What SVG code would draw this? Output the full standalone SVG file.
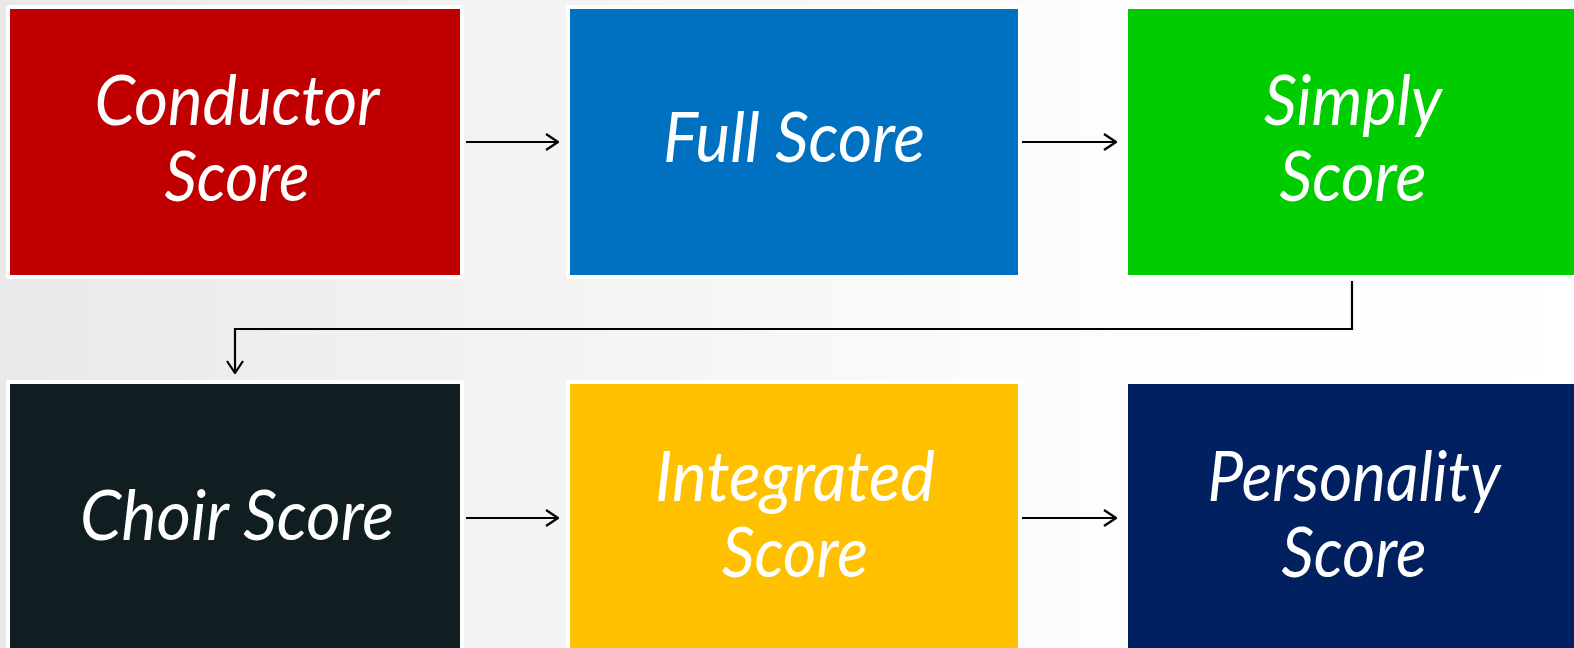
<svg xmlns="http://www.w3.org/2000/svg" width="1574" height="648" viewBox="0 0 1574 648">
<defs>
<linearGradient id="bg" x1="0" y1="0" x2="1" y2="0">
<stop offset="0" stop-color="#e9e9e9"/>
<stop offset="0.35" stop-color="#f3f3f3"/>
<stop offset="0.7" stop-color="#fdfdfd"/>
<stop offset="1" stop-color="#ffffff"/>
</linearGradient>
<marker id="arr" viewBox="0 0 14 18" refX="13" refY="9" markerWidth="14" markerHeight="18" markerUnits="userSpaceOnUse" orient="auto">
<path d="M1,1 L13,9 L1,17" fill="none" stroke="#000" stroke-width="2.2"/>
</marker>
</defs>
<style>
.frame{fill:#ffffff;}
.lbl{font-family:Lato,"Open Sans","Liberation Sans",sans-serif;font-style:italic;font-size:70px;fill:#ffffff;text-anchor:middle;}
.conn{fill:none;stroke:#000;stroke-width:2.2;marker-end:url(#arr);}
</style>
<rect x="0" y="0" width="1574" height="648" fill="url(#bg)"/>
<g id="n1">
<rect class="frame" x="6" y="5" width="458" height="274" rx="3"/>
<rect x="10" y="9" width="450" height="266" fill="#c00000"/>
<text class="lbl" x="237" y="125" textLength="285" lengthAdjust="spacingAndGlyphs">Conductor</text>
<text class="lbl" x="237" y="201" textLength="145" lengthAdjust="spacingAndGlyphs">Score</text>
</g>
<g id="n2">
<rect class="frame" x="566" y="5" width="456" height="274" rx="3"/>
<rect x="570" y="9" width="448" height="266" fill="#0070c0"/>
<text class="lbl" x="794" y="162" textLength="262" lengthAdjust="spacingAndGlyphs">Full Score</text>
</g>
<g id="n3">
<rect class="frame" x="1124" y="5" width="456" height="274" rx="3"/>
<rect x="1128" y="9" width="448" height="266" fill="#00cc00"/>
<text class="lbl" x="1353" y="125" textLength="178" lengthAdjust="spacingAndGlyphs">Simply</text>
<text class="lbl" x="1353" y="201" textLength="147" lengthAdjust="spacingAndGlyphs">Score</text>
</g>
<g id="n4">
<rect class="frame" x="6" y="380" width="458" height="274" rx="3"/>
<rect x="10" y="384" width="450" height="266" fill="#111e21"/>
<text class="lbl" x="237" y="540" textLength="314" lengthAdjust="spacingAndGlyphs">Choir Score</text>
</g>
<g id="n5">
<rect class="frame" x="566" y="380" width="456" height="274" rx="3"/>
<rect x="570" y="384" width="448" height="266" fill="#ffc000"/>
<text class="lbl" x="795" y="501" textLength="280" lengthAdjust="spacingAndGlyphs">Integrated</text>
<text class="lbl" x="795" y="577" textLength="146" lengthAdjust="spacingAndGlyphs">Score</text>
</g>
<g id="n6">
<rect class="frame" x="1124" y="380" width="456" height="274" rx="3"/>
<rect x="1128" y="384" width="448" height="266" fill="#002060"/>
<text class="lbl" x="1354" y="501" textLength="293" lengthAdjust="spacingAndGlyphs">Personality</text>
<text class="lbl" x="1354" y="577" textLength="145" lengthAdjust="spacingAndGlyphs">Score</text>
</g>
<g id="connectors">
<line class="conn" x1="466" y1="142" x2="558" y2="142"/>
<line class="conn" x1="1022" y1="142" x2="1116" y2="142"/>
<polyline class="conn" points="1352,281 1352,329 235,329 235,373"/>
<line class="conn" x1="466" y1="518" x2="558" y2="518"/>
<line class="conn" x1="1022" y1="518" x2="1116" y2="518"/>
</g>
</svg>
